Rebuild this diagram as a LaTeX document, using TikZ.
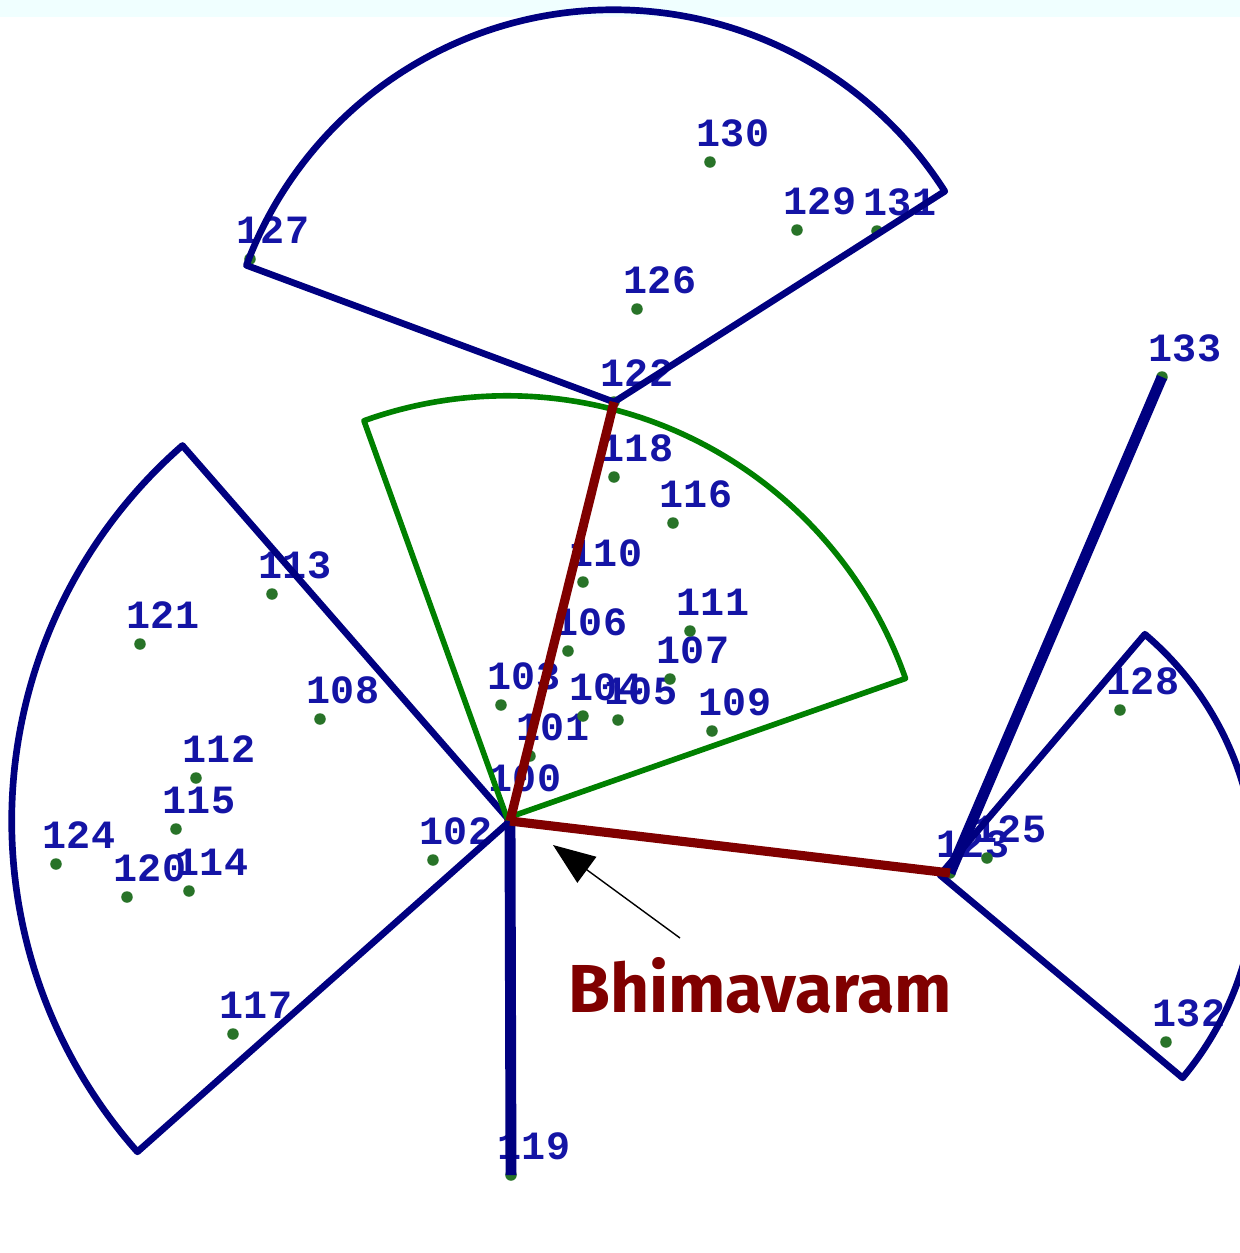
\documentclass[tikz,border=0pt]{standalone}
\usepackage{fontspec}
\newfontfamily\idfont{Liberation Mono}
\newfontfamily\townfont{Fira Sans}
\usepackage{tikz}
\usetikzlibrary{arrows.meta}
\definecolor{rangeblue}{RGB}{0,0,128}
\definecolor{idblue}{RGB}{20,20,165}
\definecolor{linkred}{RGB}{128,0,0}
\definecolor{beamgreen}{RGB}{0,128,0}
\definecolor{sitegreen}{RGB}{40,115,40}
\definecolor{topband}{RGB}{240,255,255}

\begin{document}
\begin{tikzpicture}[x=0.01cm,y=0.01cm,
  site/.style={circle,fill=sitegreen,inner sep=0pt,minimum size=0.115cm},
  idlab/.style={text=idblue,font=\idfont\bfseries\fontsize{11.4}{12}\selectfont,inner sep=0pt},
  sector/.style={draw=rangeblue,line width=1.9pt,line join=round},
  trunk/.style={draw=rangeblue,line width=3.1pt},
  link/.style={draw=linkred,line width=2.6pt}]
  \useasboundingbox (0,0) rectangle (1240,-1253);
  \clip (0,0) rectangle (1240,-1253);
  \fill[topband] (0,0) rectangle (1240,-17);

  % sites and their numbers
  \foreach \n/\x/\y in {101/530/756, 102/433/860, 103/501/705, 104/583/716,
     105/618/720, 106/568/651, 107/670/679, 108/320/719, 109/712/731,
     110/583/582, 111/690/631, 112/196/778, 113/272/594, 114/189/891,
     115/176/829, 116/673/523, 117/233/1034, 118/614/477, 119/511/1175,
     120/127/897, 121/140/644, 122/614/402, 123/950/873, 124/56/864,
     125/987/858, 126/637/309, 127/250/259, 128/1120/710, 129/797/230,
     130/710/162, 131/877/231, 132/1166/1042, 133/1162/377}
  { \node[site] (n\n) at (\x,-\y) {};
    \node[idlab] (l\n) at ([shift={(23,29)}]n\n) {\n}; }
  \node[site,fill=red!80!black] (n100) at (510,-821) {};
  \node[idlab] (l100) at (525,-778) {100};

  % coverage sectors
  \draw[sector] (n122.center) -- ++(32.5:3.92cm)
    arc[start angle=32.5,end angle=159.6,radius=3.92cm] -- cycle;
  \draw[sector] (n100.center) -- ++(131.1:4.98cm)
    arc[start angle=131.1,end angle=221.6,radius=4.98cm] -- cycle;
  \draw[sector] (940,-875) -- ++(-39.9:3.16cm)
    arc[start angle=-39.9,end angle=49.6,radius=3.16cm] -- cycle;
  \draw[draw=beamgreen,line width=1.6pt,line join=round] (507,-818) -- ++(19.3:4.22cm)
    arc[start angle=19.3,end angle=109.8,radius=4.22cm] -- cycle;

  % links
  \draw[trunk] (n133.center) -- (n123.center);
  \draw[trunk] (n100.center) -- (n119.center);
  \draw[link] (n100.center) -- (n122.center);
  \draw[link] (n100.center) -- (n123.center);

  \node[text=linkred,font=\townfont\bfseries\fontsize{19.3}{21}\selectfont] (town) at (760,-986) {Bhimavaram};
  \coordinate (tail) at (680,-938);
  \coordinate (tip) at (553,-845);
  \draw[-{Triangle[length=0.42cm,width=0.32cm]},line width=0.4pt] (tail) -- (tip);
\end{tikzpicture}
\end{document}
